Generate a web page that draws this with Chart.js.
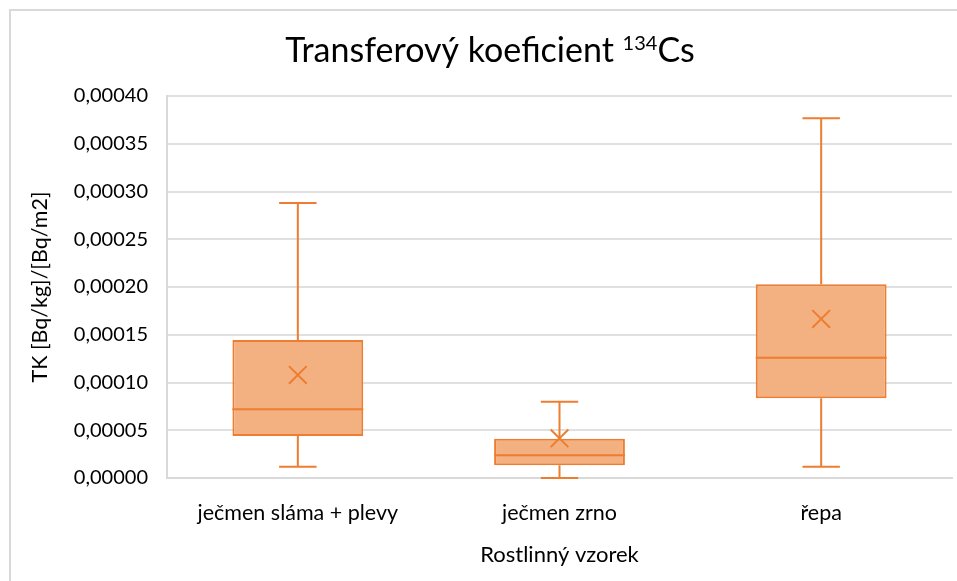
<!DOCTYPE html>
<html>
<head>
<meta charset="utf-8">
<script src="https://cdn.jsdelivr.net/npm/chart.js@4"></script>
<style>
  html, body { margin: 0; padding: 0; background: #ffffff; }
  canvas { display: block; }
</style>
</head>
<body>
<canvas id="c" width="957" height="581"></canvas>
<script>
// ---- data ----
const categories = ['ječmen sláma + plevy', 'ječmen zrno', 'řepa'];
const minValues    = [0.0000118, 0.0000000, 0.0000118];
const q1Values     = [0.0000440, 0.0000133, 0.0000835];
const medianValues = [0.0000719, 0.0000238, 0.0001260];
const q3Values     = [0.0001445, 0.0000412, 0.0002028];
const maxValues    = [0.0002880, 0.0000799, 0.0003766];
const meanValues   = [0.0001079, 0.0000416, 0.0001665];
const yMin = 0, yMax = 0.0004, yStep = 0.00005;

const titleMain = 'Transferový koeficient ';
const titleSup = '134';
const titleTail = 'Cs';
const yTitle = 'TK [Bq/kg]/[Bq/m2]';
const xTitle = 'Rostlinný vzorek';

const ORANGE = '#ED7D31';
const ORANGE_FILL = '#F3B080';
const TEXT = '#000000';
const FONT = 'Lato, "Open Sans", sans-serif';

Chart.defaults.font.family = FONT;
Chart.defaults.color = TEXT;

const boxPlugin = {
  id: 'boxExtras',
  beforeDraw(chart) {
    const ctx = chart.ctx;
    ctx.save();
    ctx.strokeStyle = '#d9d9d9';
    ctx.lineWidth = 2;
    ctx.strokeRect(10, 10, chart.width + 20, chart.height + 20);
    ctx.restore();
  },
  afterDatasetsDraw(chart) {
    const ctx = chart.ctx;
    const y = chart.scales.y;
    const meta = chart.getDatasetMeta(0);
    ctx.save();
    ctx.strokeStyle = ORANGE;
    ctx.lineWidth = 2;
    meta.data.forEach((bar, i) => {
      const cx = bar.x;
      const w = bar.width;
      const capHalf = w * 0.143;
      const yMaxP = y.getPixelForValue(maxValues[i]);
      const yQ3 = y.getPixelForValue(q3Values[i]);
      const yQ1 = y.getPixelForValue(q1Values[i]);
      const yMinP = y.getPixelForValue(minValues[i]);
      const yMed = y.getPixelForValue(medianValues[i]);
      ctx.beginPath();
      ctx.moveTo(cx, yQ3); ctx.lineTo(cx, yMaxP);
      ctx.moveTo(cx - capHalf, yMaxP); ctx.lineTo(cx + capHalf, yMaxP);
      ctx.moveTo(cx, yQ1); ctx.lineTo(cx, yMinP);
      ctx.moveTo(cx - capHalf, yMinP); ctx.lineTo(cx + capHalf, yMinP);
      ctx.moveTo(cx - w / 2, yMed); ctx.lineTo(cx + w / 2, yMed);
      ctx.stroke();
    });
    ctx.restore();
  },
  afterDraw(chart) {
    const ctx = chart.ctx;
    ctx.save();
    ctx.fillStyle = TEXT;
    ctx.textBaseline = 'alphabetic';
    const mainFont = '34px ' + FONT;
    const supFont = '20px ' + FONT;
    ctx.font = mainFont;
    const w1 = ctx.measureText(titleMain).width;
    const w3 = ctx.measureText(titleTail).width;
    ctx.font = supFont;
    const w2 = ctx.measureText(titleSup).width;
    const total = w1 + w2 + w3;
    let x = 490 - total / 2;
    const base = 62;
    ctx.textAlign = 'left';
    ctx.font = mainFont;
    ctx.fillText(titleMain, x, base); x += w1;
    ctx.font = supFont;
    ctx.fillText(titleSup, x, base - 12); x += w2;
    ctx.font = mainFont;
    ctx.fillText(titleTail, x, base);
    ctx.restore();
  }
};

new Chart(document.getElementById('c'), {
  data: {
    labels: categories,
    datasets: [
      {
        type: 'bar',
        label: 'box',
        data: categories.map((_, i) => [q1Values[i], q3Values[i]]),
        backgroundColor: ORANGE_FILL,
        borderColor: ORANGE,
        borderWidth: 2,
        borderSkipped: false,
        barPercentage: 0.5,
        categoryPercentage: 1.0,
        order: 2
      },
      {
        type: 'line',
        label: 'mean',
        data: meanValues,
        showLine: false,
        pointStyle: 'crossRot',
        pointRadius: 12.5,
        pointBorderWidth: 2,
        pointBorderColor: ORANGE,
        pointBackgroundColor: ORANGE,
        order: 1
      }
    ]
  },
  options: {
    responsive: false,
    animation: false,
    layout: { autoPadding: false, padding: { left: 0, right: 5, top: 96, bottom: 0 } },
    plugins: {
      legend: { display: false },
      tooltip: { enabled: false },
      title: { display: false }
    },
    scales: {
      x: {
        type: 'category',
        grid: { display: true, drawOnChartArea: false, drawTicks: false },
        border: { display: true, color: '#d9d9d9', width: 2 },
        ticks: { padding: 22, font: { size: 21.5 }, color: TEXT, maxRotation: 0 },
        title: { display: true, text: xTitle, font: { size: 22 }, color: TEXT, padding: { top: 0, bottom: 13 } },
        afterFit(scale) { scale.height = 103; scale.paddingLeft = 0; scale.paddingRight = 0; }
      },
      y: {
        min: yMin,
        max: yMax,
        grid: { color: '#e0e0e0', lineWidth: 2, drawTicks: false },
        border: { display: true, color: '#d9d9d9', width: 2 },
        ticks: {
          stepSize: yStep,
          padding: 19,
          font: { size: 20 },
          color: TEXT,
          callback: (v) => Number(v).toFixed(5).replace('.', ',')
        },
        title: { display: true, text: yTitle, font: { size: 21.5 }, color: TEXT, padding: { top: 27, bottom: 0 } },
        afterFit(scale) { scale.width = 167; }
      }
    }
  },
  plugins: [boxPlugin]
});
</script>
</body>
</html>
